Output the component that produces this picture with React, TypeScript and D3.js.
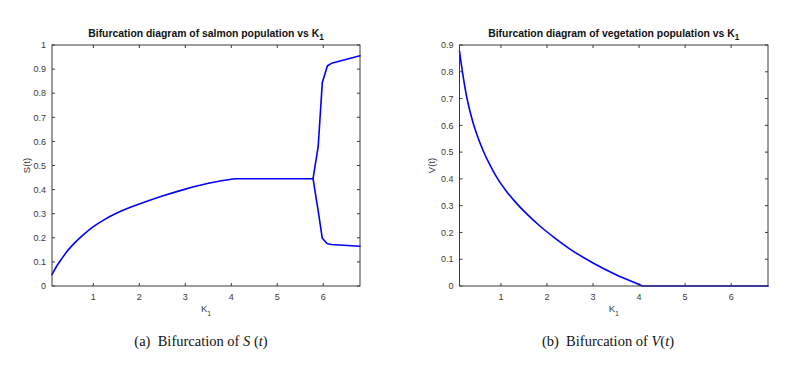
import React from "react";
import * as d3 from "d3";

// ---- data ----
// stable single branch (K1 from 0.1 to the bifurcation point)
const kS = [0.1, 0.2, 0.3, 0.42, 0.6, 0.78, 1, 1.25, 1.5, 1.75, 2, 2.5, 3, 3.5, 4, 4.1, 5, 5.78];
const sVals = [0.047, 0.082, 0.11, 0.142, 0.18, 0.212, 0.246, 0.2765, 0.3015, 0.3222, 0.34, 0.373, 0.402, 0.426, 0.443, 0.445, 0.445, 0.445];
// branches after the bifurcation
const kBranch = [5.78, 5.89, 5.98, 6.09, 6.18, 6.8];
const sUpper = [0.447, 0.578, 0.844, 0.913, 0.924, 0.955];
const sLower = [0.443, 0.312, 0.198, 0.175, 0.172, 0.165];

const kV = [0.1, 0.172, 0.245, 0.354, 0.462, 0.607, 0.752, 0.933, 1.114, 1.296, 1.549, 1.839, 2.165, 2.5, 3, 3.5, 4, 4.08, 6.8];
const vVals = [0.877, 0.79, 0.716, 0.635, 0.573, 0.508, 0.455, 0.399, 0.355, 0.317, 0.271, 0.225, 0.18, 0.138, 0.086, 0.042, 0.006, 0, 0];

const xTicks = [1, 2, 3, 4, 5, 6];
const sTicks = [0, 0.1, 0.2, 0.3, 0.4, 0.5, 0.6, 0.7, 0.8, 0.9, 1];
const vTicks = [0, 0.1, 0.2, 0.3, 0.4, 0.5, 0.6, 0.7, 0.8, 0.9];

const SANS = "'Liberation Sans', Arial, Helvetica, sans-serif";
const SERIF = "'Liberation Serif', 'Times New Roman', serif";
const AX = "#3a3a3a";

type Series = { x: number[]; y: number[]; smooth: boolean };

type PanelProps = {
  left: number;
  right: number;
  top: number;
  bottom: number;
  yMax: number;
  yTicks: number[];
  series: Series[];
  titleMain: string;
  yLabel: string;
  yLabelX: number;
};

function Panel(p: PanelProps) {
  const xs = d3.scaleLinear().domain([0.1, 6.8]).range([p.left, p.right]);
  const ys = d3.scaleLinear().domain([0, p.yMax]).range([p.bottom, p.top]);
  const mkLine = (smooth: boolean) =>
    d3
      .line<[number, number]>()
      .x((d) => xs(d[0]))
      .y((d) => ys(d[1]))
      .curve(smooth ? d3.curveMonotoneX : d3.curveLinear);
  const tl = 3;
  const cx = (p.left + p.right) / 2;
  return (
    <g>
      {p.series.map((s, i) => (
        <path
          key={i}
          d={mkLine(s.smooth)(s.x.map((k, j) => [k, s.y[j]] as [number, number])) || ""}
          fill="none"
          stroke="#0000ff"
          strokeWidth={1.6}
          strokeLinejoin="round"
          strokeLinecap="round"
        />
      ))}
      <rect x={p.left} y={p.top} width={p.right - p.left} height={p.bottom - p.top} fill="none" stroke={AX} strokeWidth={1} />
      {xTicks.map((t) => (
        <g key={"x" + t}>
          <line x1={xs(t)} x2={xs(t)} y1={p.bottom} y2={p.bottom - tl} stroke={AX} />
          <line x1={xs(t)} x2={xs(t)} y1={p.top} y2={p.top + tl} stroke={AX} />
          <text x={xs(t)} y={p.bottom + 13.5} textAnchor="middle" fontFamily={SANS} fontSize={9} fill={AX}>
            {t}
          </text>
        </g>
      ))}
      {p.yTicks.map((t) => (
        <g key={"y" + t}>
          <line x1={p.left} x2={p.left + tl} y1={ys(t)} y2={ys(t)} stroke={AX} />
          <line x1={p.right} x2={p.right - tl} y1={ys(t)} y2={ys(t)} stroke={AX} />
          <text x={p.left - 6} y={ys(t) + 3.2} textAnchor="end" fontFamily={SANS} fontSize={9} fill={AX}>
            {t}
          </text>
        </g>
      ))}
      <text x={cx} y={p.bottom + 26} textAnchor="middle" fontFamily={SANS} fontSize={9.5} fill={AX}>
        K<tspan fontSize={7} dy={4}>1</tspan>
      </text>
      <text
        transform={`translate(${p.yLabelX},${(p.top + p.bottom) / 2}) rotate(-90)`}
        textAnchor="middle"
        fontFamily={SANS}
        fontSize={9.5}
        fill={AX}
      >
        {p.yLabel}
      </text>
      <text x={cx} y={p.top - 8} textAnchor="middle" fontFamily={SANS} fontSize={10.4} fontWeight="bold" fill="#111">
        {p.titleMain}K<tspan fontSize={8.2} dy={3}>1</tspan>
      </text>
    </g>
  );
}

export default function App() {
  return (
    <svg
      width={800}
      height={365}
      style={{ position: "absolute", left: 0, top: 0, background: "#fff" }}
    >
      <rect width={800} height={365} fill="#fff" />
      <Panel
        left={52}
        right={360}
        top={45}
        bottom={286}
        yMax={1}
        yTicks={sTicks}
        series={[
          { x: kS, y: sVals, smooth: true },
          { x: kBranch, y: sUpper, smooth: false },
          { x: kBranch, y: sLower, smooth: false },
        ]}
        titleMain="Bifurcation diagram of salmon population vs "
        yLabel="S(t)"
        yLabelX={30}
      />
      <Panel
        left={459.5}
        right={768}
        top={45}
        bottom={286}
        yMax={0.9}
        yTicks={vTicks}
        series={[{ x: kV, y: vVals, smooth: true }]}
        titleMain="Bifurcation diagram of vegetation population vs "
        yLabel="V(t)"
        yLabelX={435}
      />
      <text x={201} y={346} textAnchor="middle" fontFamily={SERIF} fontSize={14.5} fill="#111">
        (a){"\u00a0\u00a0"}Bifurcation of <tspan fontStyle="italic">S</tspan>{"\u00a0"}(<tspan fontStyle="italic">t</tspan>)
      </text>
      <text x={608} y={346} textAnchor="middle" fontFamily={SERIF} fontSize={14.5} fill="#111">
        (b){"\u00a0\u00a0"}Bifurcation of <tspan fontStyle="italic">V</tspan>(<tspan fontStyle="italic">t</tspan>)
      </text>
    </svg>
  );
}
